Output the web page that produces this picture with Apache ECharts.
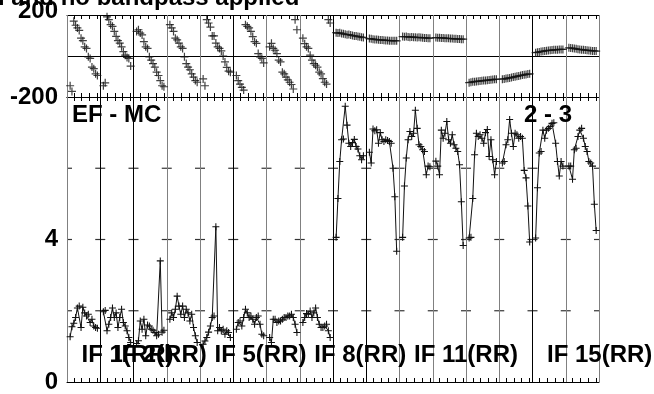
<!DOCTYPE html>
<html><head><meta charset="utf-8">
<script src="https://cdn.jsdelivr.net/npm/echarts@6/dist/echarts.min.js"></script>
<style>html,body{margin:0;padding:0;background:#fff}#c{width:654px;height:394px}</style>
</head><body><div id="c"></div>
<script>
// ---- data ----
const titleText = 'l and no bandpass applied';
const baselineLeft = 'EF - MC';
const baselineRight = '2 - 3';
const ifLabels = ['IF 1(RR)', 'IF 2(RR)', 'IF 5(RR)', 'IF 8(RR)', 'IF 11(RR)', 'IF 15(RR)'];
const ifLabelPanel = [0, 1, 4, 7, 10, 14];
const phaseTop = 200;
const phaseTicks = [-200];
const ampTicks = [0, 4];

// phase (deg) per IF, 16 channels each
const ph01 = [-145, -173, 170, 150, 137, 125, 87, 75, 45, 37, -4, -12, -54, -62, -87, -95];
const ph02 = [-145, -131, 191, 177, 153, 145, 120, 96, 75, 63, 45, 21, 4, -7, -12, -49];
const ph03 = [120, 128, 112, 103, 70, 45, 37, -4, -20, -37, -54, -79, -95, -120, -145, -150];
const ph04 = [153, 137, 120, 87, 79, 63, 45, 37, -4, -37, -54, -67, -87, -103, -120, -128];
const ph05 = [-112, -145, 177, 161, 141, 98, 98, 63, 45, 37, 25, 0, -29, -55, -74, -79];
const ph06 = [-95, -120, -137, -153, -166, 153, 145, 137, 120, 95, 70, 62, 12, -4, -12, -34];
const ph07 = [45, 62, 37, 28, 12, -20, -29, -79, -87, -103, -116, -128, -139, -161, 177, 128];
const ph08 = [87, 60, 45, 37, 4, -20, -37, -45, -54, -79, -87, -110, -128, -137, 177, 161];
const ph09 = [114, 112, 113, 110, 108, 106, 104, 105, 102, 100, 98, 97, 95, 94, 92, 90];
const ph10 = [85, 84, 82, 81, 80, 79, 78, 78, 77, 76, 76, 75, 75, 74, 75, 74];
const ph11 = [95, 94, 95, 93, 92, 93, 92, 91, 90, 91, 90, 89, 88, 88, 87, 87];
const ph12 = [90, 89, 89, 88, 88, 87, 86, 86, 85, 85, 84, 84, 83, 83, 82, 82];
const ph13 = [-130, -128, -126, -125, -124, -123, -122, -121, -120, -119, -118, -117, -116, -115, -114, -113];
const ph14 = [-113, -112, -110, -108, -107, -105, -103, -101, -99, -97, -95, -93, -92, -90, -88, -87];
const ph15 = [16, 18, 20, 22, 23, 25, 26, 27, 28, 29, 30, 30, 31, 32, 32, 32];
const ph16 = [40, 39, 38, 36, 35, 33, 32, 31, 30, 29, 28, 27, 26, 25, 25, 24];

// amplitude per IF, 16 channels each
const amp01 = [1.27, 1.55, 1.65, 1.81, 2.08, 2.13, 1.53, 2.1, 1.94, 1.85, 1.9, 1.67, 1.76, 1.57, 1.53, 1.51];
const amp02 = [1.97, 2.01, 1.44, 1.62, 1.81, 2.08, 1.81, 1.94, 1.53, 1.81, 2.04, 1.67, 1.57, 1.44, 1.25, 1.11];
const amp03 = [1.08, 1.16, 1.71, 1.48, 1.76, 1.3, 1.6, 1.57, 1.48, 1.45, 1.39, 1.3, 1.34, 3.4, 1.4, 1.45];
const amp04 = [1.76, 1.94, 1.81, 2.04, 2.41, 2.13, 1.9, 2.13, 1.81, 2.04, 1.94, 1.71, 1.9, 1.53, 1.3, 1.11];
const amp05 = [1.06, 1.15, 1.25, 1.4, 1.57, 1.81, 1.85, 4.36, 1.44, 1.53, 1.44, 1.48, 1.34, 1.44, 1.39, 1.25];
const amp06 = [1.48, 1.67, 1.71, 1.57, 1.81, 2.04, 1.94, 1.81, 1.85, 1.76, 1.62, 1.81, 1.85, 1.62, 1.34, 1.3];
const amp07 = [1.25, 1.11, 1.76, 1.76, 1.67, 1.71, 1.71, 1.76, 1.81, 1.81, 1.85, 1.85, 1.9, 1.81, 1.62, 1.39];
const amp08 = [1.67, 1.81, 1.92, 1.9, 1.99, 1.81, 1.94, 2.08, 1.81, 1.62, 1.53, 1.53, 1.57, 1.62, 1.44, 1.25];
const amp09 = [4.06, 5.15, 6.19, 6.8, 6.82, 7.74, 7.21, 6.7, 6.61, 6.72, 6.81, 6.61, 6.54, 6.35, 6.24, 6.35];
const amp10 = [6.45, 6.15, 7.1, 7.05, 7.08, 6.7, 7.0, 6.8, 6.75, 6.8, 6.78, 6.75, 6.7, 6.0, 5.2, 3.67];
const amp11 = [4.06, 5.5, 6.29, 6.8, 7.03, 6.89, 6.98, 7.63, 7.12, 6.66, 6.61, 6.52, 6.47, 5.82, 6.06, 6.04];
const amp12 = [6.2, 6.06, 5.82, 7.07, 6.84, 6.98, 7.31, 6.8, 6.7, 6.94, 6.66, 6.56, 6.47, 6.1, 5.06, 3.83];
const amp13 = [4.04, 4.06, 5.15, 6.38, 6.98, 6.89, 6.94, 6.84, 6.7, 7.0, 7.09, 6.33, 6.8, 6.24, 5.82, 6.19];
const amp14 = [6.15, 6.19, 6.66, 6.8, 7.37, 6.98, 6.61, 6.98, 6.94, 6.84, 6.89, 6.84, 5.94, 5.73, 4.94, 3.93];
const amp15 = [4.04, 5.45, 6.43, 6.47, 7.07, 6.84, 7.07, 7.12, 7.17, 7.26, 7.28, 6.7, 6.19, 5.78, 6.19, 6.06];
const amp16 = [6.06, 6.06, 5.69, 6.52, 6.56, 6.89, 7.07, 7.12, 6.84, 6.61, 6.47, 6.19, 6.15, 6.06, 4.99, 4.25];

const phases = [ph01, ph02, ph03, ph04, ph05, ph06, ph07, ph08, ph09, ph10, ph11, ph12, ph13, ph14, ph15, ph16];
const amps = [amp01, amp02, amp03, amp04, amp05, amp06, amp07, amp08, amp09, amp10, amp11, amp12, amp13, amp14, amp15, amp16];

// ---- layout / style ----
const NIF = 16, PANEL = 17, CH0 = 1.6, CHSTEP = 0.93;
const FONT = 'Liberation Sans, Arial, Helvetica, sans-serif';
const FS = 24;
const G = '#808080', K = '#000';
const boundaryColors = [G, K, K, G, G, K, G, G, K, K, G, G, G, G, K, G, G];
const minorOffsets = [3.5, 7.5, 11.5, 15.5];
const dashLevels = [2, 4, 6];
const CROSS = 'path://M0,3.4H3.4V0H4.6V3.4H8V4.6H4.6V8H3.4V4.6H0Z';

const chX = (i, j) => i * PANEL + CH0 + j * CHSTEP;
const minorTicks = [];
for (let i = 0; i < NIF; i++) minorOffsets.forEach(o => minorTicks.push(i * PANEL + o));

const boundaryLines = boundaryColors.map((c, b) => ({xAxis: b * PANEL, lineStyle: {color: c, width: 1, type: 'solid'}}));
const markBounds = {silent: true, symbol: ['none', 'none'], label: {show: false}, animation: false,
  lineStyle: {width: 1, type: 'solid'}, data: boundaryLines};

const chart = echarts.init(document.getElementById('c'), null, {renderer: 'canvas'});

const phaseData = [];
phases.forEach((arr, i) => arr.forEach((v, j) => phaseData.push([chX(i, j), v])));

const ampSeries = amps.map((arr, i) => ({
  type: 'line', xAxisIndex: 3, yAxisIndex: 1, silent: true, animation: false,
  data: arr.map((v, j) => [chX(i, j), v]),
  symbol: CROSS, symbolSize: 7, showSymbol: true, showAllSymbol: true,
  itemStyle: {color: '#111'}, lineStyle: {color: '#111', width: 1}, z: 5
}));

const dashData = [];
for (let b = 0; b <= NIF; b++) dashLevels.forEach(v => {
  const item = {value: [b * PANEL, v]};
  if (b === 0) { item.symbolSize = [5, 1.2]; item.symbolOffset = [2.5, 0]; }
  else if (b === NIF) { item.symbolSize = [5, 1.2]; item.symbolOffset = [-2.5, 0]; }
  dashData.push(item);
});

const xBase = (grid, pos) => ({
  type: 'value', gridIndex: grid, position: pos, min: 0, max: NIF * PANEL, interval: PANEL,
  axisLine: {show: true, onZero: false, lineStyle: {color: K, width: 1}},
  axisTick: {show: true, inside: true, length: 4, customValues: minorTicks, lineStyle: {color: K, width: 1}},
  axisLabel: {show: false},
  splitLine: {show: false}
});

const labelStyle = {color: K, fontSize: FS, fontWeight: 'bold', fontFamily: FONT};

chart.setOption({
  animation: false,
  backgroundColor: '#fff',
  grid: [
    {left: 67, right: 55, top: 15, height: 82},
    {left: 67, right: 55, top: 97, height: 288}
  ],
  xAxis: [xBase(0, 'bottom'), xBase(0, 'top'), xBase(1, 'top'), xBase(1, 'bottom')],
  yAxis: [
    {type: 'value', gridIndex: 0, min: -200, max: 200, interval: 200,
     axisLine: {show: false}, axisTick: {show: false},
     splitLine: {show: true, lineStyle: {color: K, width: 1}},
     axisLabel: Object.assign({margin: 9, formatter: v => phaseTicks.includes(v) ? String(v) : ''}, labelStyle)},
    {type: 'value', gridIndex: 1, min: 0, max: 8, interval: 2,
     axisLine: {show: false}, axisTick: {show: false}, splitLine: {show: false},
     axisLabel: Object.assign({margin: 9, formatter: v => ampTicks.includes(v) ? String(v) : ''}, labelStyle)}
  ],
  series: [
    {type: 'scatter', xAxisIndex: 0, yAxisIndex: 0, silent: true, data: phaseData,
     symbol: CROSS, symbolSize: 8, itemStyle: {color: '#111'}, z: 5, markLine: markBounds},
    {type: 'scatter', xAxisIndex: 3, yAxisIndex: 1, silent: true, data: dashData,
     symbol: 'rect', symbolSize: [10, 1.2], itemStyle: {color: K}, z: 3, markLine: markBounds}
  ].concat(ampSeries)
});

const txt = (x, y, s, align) => ({type: 'text', x: x, y: y, silent: true, z: 100,
  style: {text: s, fill: K, font: 'bold ' + FS + 'px ' + FONT, textVerticalAlign: 'middle', textAlign: align || 'left'}});
const topY = chart.convertToPixel({yAxisIndex: 0}, phaseTop);
const graphics = [
  txt(-2, -1.5, titleText),
  txt(58, topY - 4, String(phaseTop), 'right'),
  txt(72, 115.5, baselineLeft),
  txt(524, 115.5, baselineRight)
];
ifLabels.forEach((s, k) => {
  const px = chart.convertToPixel({xAxisIndex: 3}, ifLabelPanel[k] * PANEL);
  graphics.push(txt(px + 14.5, 355.5, s));
});
chart.setOption({graphic: graphics});
</script>
</body></html>
